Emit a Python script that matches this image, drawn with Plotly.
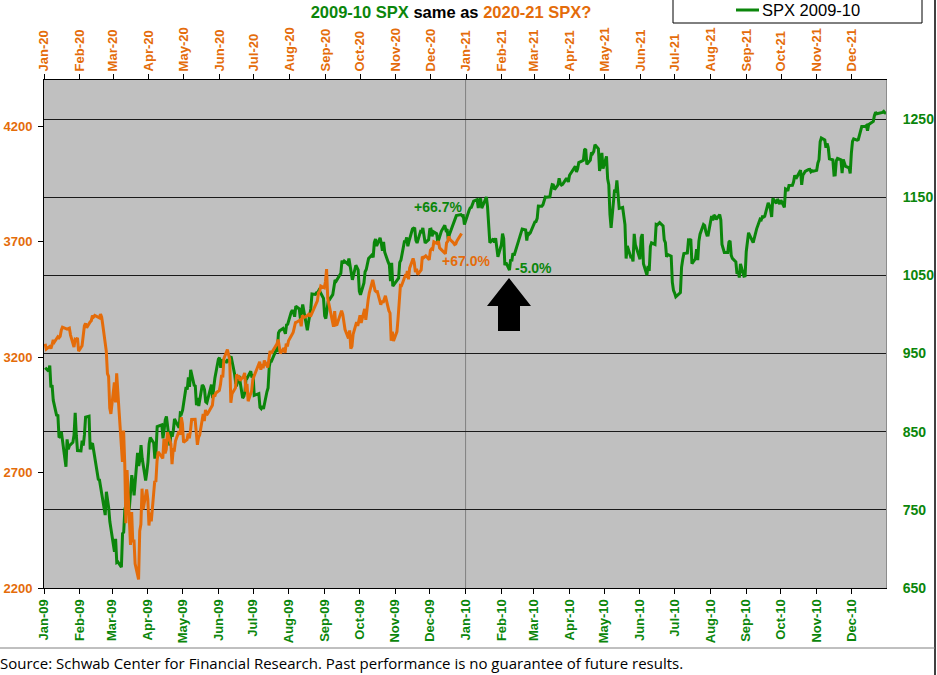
import pandas as pd
import plotly.graph_objects as go

# ---------------- data ----------------
holidays_2009 = ["2009-01-01", "2009-01-19", "2009-02-16", "2009-04-10", "2009-05-25",
                 "2009-07-03", "2009-09-07", "2009-11-26", "2009-12-25"]
holidays_2010 = ["2010-01-01", "2010-01-18", "2010-02-15", "2010-04-02", "2010-05-31",
                 "2010-07-05", "2010-09-06", "2010-11-25", "2010-12-24"]
holidays_2020 = ["2020-01-01", "2020-01-20", "2020-02-17", "2020-04-10", "2020-05-25",
                 "2020-07-03", "2020-09-07", "2020-11-26", "2020-12-25"]

spx_2009 = [
    931.80, 927.45, 934.70, 906.65, 909.73, 890.35, 870.26, 871.79, 842.62, 843.74, 850.12, 805.22, 840.24, 827.50, 831.95, 836.57, 845.71, 874.09, 845.14, 825.88,
    825.44, 838.51, 832.23, 845.85, 868.60, 869.89, 827.16, 833.74, 835.19, 826.84, 789.17, 788.42, 778.94, 770.05, 743.33, 773.14, 764.90, 752.83, 735.09,
    700.82, 696.33, 712.87, 682.55, 683.38, 676.53, 719.60, 721.36, 750.74, 756.55, 753.89, 778.12, 794.35, 784.04, 768.54, 822.92, 806.12, 813.88, 832.86, 815.94, 787.53, 797.87,
    811.08, 834.38, 842.50, 835.48, 815.55, 825.16, 856.56, 858.73, 841.50, 852.06, 865.30, 869.60, 832.39, 850.08, 843.55, 851.92, 866.23, 857.51, 855.16, 873.64, 872.81,
    877.52, 907.24, 903.80, 919.53, 907.39, 929.23, 909.24, 908.35, 883.92, 893.07, 882.88, 909.71, 908.13, 903.47, 888.33, 887.00, 910.33, 893.06, 906.83, 919.14,
    942.87, 944.74, 931.76, 942.46, 940.09, 939.14, 942.43, 939.15, 944.89, 946.21, 923.72, 911.97, 910.71, 918.37, 921.23, 893.04, 895.10, 900.94, 920.26, 918.90, 927.23, 919.32,
    923.33, 896.42, 898.72, 881.03, 879.56, 882.68, 879.13, 901.05, 905.84, 932.68, 940.74, 940.38, 951.13, 954.58, 954.07, 976.29, 979.26, 982.18, 979.62, 975.15, 986.75, 987.48,
    1002.63, 1005.65, 1002.72, 997.08, 1010.48, 1007.10, 994.35, 1005.81, 1012.73, 1004.09, 979.73, 989.67, 996.46, 1007.37, 1026.13, 1025.57, 1028.00, 1028.12, 1030.98, 1028.93, 1020.62,
    998.04, 994.75, 1003.24, 1016.40, 1025.39, 1033.37, 1044.14, 1042.73, 1049.34, 1052.63, 1068.76, 1065.49, 1068.30, 1064.66, 1071.66, 1060.87, 1050.78, 1044.38, 1062.98, 1060.61, 1057.08,
    1029.85, 1025.21, 1040.46, 1054.72, 1057.58, 1065.48, 1071.49, 1076.19, 1073.19, 1092.02, 1096.56, 1087.68, 1097.91, 1091.06, 1081.40, 1092.91, 1079.60, 1066.95, 1063.41, 1042.63, 1066.11, 1036.19,
    1042.88, 1045.41, 1046.50, 1066.63, 1069.30, 1093.08, 1093.01, 1098.51, 1087.24, 1093.48, 1109.30, 1110.32, 1109.80, 1094.90, 1091.38, 1106.24, 1105.65, 1110.63, 1091.49, 1095.63,
    1108.86, 1109.24, 1099.92, 1105.98, 1103.25, 1091.94, 1095.95, 1102.35, 1106.41, 1114.11, 1107.93, 1109.18, 1096.08, 1102.47, 1114.05, 1118.02, 1120.59, 1126.48, 1127.78, 1126.20, 1126.42, 1115.10,
]

spx_2010 = [
    1132.99, 1136.52, 1137.14, 1141.69, 1144.98, 1146.98, 1136.22, 1145.68, 1148.46, 1136.03, 1150.23, 1138.04, 1116.48, 1091.76, 1096.78, 1092.17, 1097.50, 1084.53, 1073.87,
    1089.19, 1103.32, 1097.28, 1063.11, 1066.19, 1056.74, 1070.52, 1068.13, 1078.47, 1075.51, 1094.87, 1099.51, 1106.75, 1109.17, 1108.01, 1094.60, 1105.24, 1102.94, 1104.49,
    1115.71, 1118.31, 1118.79, 1122.97, 1138.70, 1138.50, 1140.45, 1145.61, 1150.24, 1149.99, 1150.51, 1159.46, 1166.21, 1165.83, 1159.90, 1165.81, 1174.17, 1167.72, 1165.73, 1166.59, 1173.22, 1173.27, 1169.43,
    1178.10, 1187.44, 1189.44, 1182.45, 1186.44, 1194.37, 1196.48, 1197.30, 1210.65, 1211.67, 1192.13, 1197.52, 1207.17, 1205.94, 1208.67, 1217.28, 1212.05, 1183.71, 1191.36, 1206.78, 1186.69,
    1202.26, 1173.60, 1165.87, 1128.15, 1110.88, 1159.73, 1155.79, 1171.67, 1157.44, 1135.68, 1136.94, 1120.80, 1115.05, 1071.59, 1087.69, 1073.65, 1074.03, 1067.95, 1103.06, 1089.41,
    1070.71, 1098.38, 1102.83, 1064.88, 1050.47, 1062.00, 1055.69, 1086.84, 1091.60, 1089.63, 1115.23, 1114.61, 1116.04, 1117.51, 1113.20, 1095.31, 1092.04, 1073.69, 1076.76, 1074.57, 1041.24, 1030.71,
    1027.37, 1022.58, 1028.06, 1060.27, 1070.25, 1077.96, 1078.75, 1095.34, 1095.17, 1096.48, 1064.88, 1071.25, 1083.48, 1069.59, 1093.67, 1102.66, 1115.01, 1113.84, 1106.13, 1101.53, 1101.60,
    1125.86, 1120.46, 1127.24, 1125.81, 1121.64, 1127.79, 1121.06, 1089.47, 1083.61, 1079.25, 1079.38, 1092.54, 1094.16, 1075.63, 1071.69, 1067.36, 1051.87, 1055.33, 1047.22, 1064.59, 1048.92, 1049.33,
    1080.29, 1090.10, 1104.51, 1091.84, 1098.87, 1104.18, 1109.55, 1121.90, 1121.10, 1125.07, 1124.66, 1125.59, 1142.71, 1139.78, 1134.28, 1124.83, 1148.67, 1142.16, 1147.70, 1144.73, 1141.20,
    1146.24, 1137.03, 1160.75, 1159.97, 1158.06, 1165.15, 1165.32, 1169.77, 1178.10, 1173.81, 1176.19, 1184.71, 1165.90, 1178.17, 1180.26, 1183.08, 1185.62, 1185.64, 1182.45, 1183.78, 1183.26,
    1184.38, 1193.57, 1197.96, 1221.06, 1225.85, 1223.25, 1213.40, 1218.71, 1213.54, 1199.21, 1197.75, 1178.34, 1178.59, 1196.69, 1199.73, 1197.84, 1180.73, 1198.35, 1189.40, 1187.76, 1180.55,
    1206.07, 1221.53, 1224.71, 1223.12, 1223.75, 1228.28, 1233.00, 1240.40, 1240.46, 1241.59, 1235.23, 1242.87, 1243.91, 1247.08, 1254.60, 1258.84, 1256.77, 1257.54, 1258.51, 1259.78, 1257.88, 1257.64,
]

spx_2020 = [
    3257.85, 3234.85, 3246.28, 3237.18, 3253.05, 3274.70, 3265.35, 3288.13, 3283.15, 3289.29, 3316.81, 3329.62, 3320.79, 3321.75, 3325.54, 3295.47, 3243.63, 3276.24, 3273.40, 3283.66, 3225.52,
    3248.92, 3297.59, 3334.69, 3345.78, 3327.71, 3352.09, 3357.75, 3379.45, 3373.94, 3380.16, 3370.29, 3386.15, 3373.23, 3337.75, 3225.89, 3128.21, 3116.39, 2978.76, 2954.22,
    3090.23, 3003.37, 3130.12, 3023.94, 2972.37, 2746.56, 2882.23, 2741.38, 2480.64, 2711.02, 2386.13, 2529.19, 2398.10, 2409.39, 2304.92, 2237.40, 2447.33, 2475.56, 2630.07, 2541.47, 2626.65, 2584.59,
    2470.50, 2526.90, 2488.65, 2663.68, 2659.41, 2749.98, 2789.82, 2761.63, 2846.06, 2783.36, 2799.55, 2874.56, 2823.16, 2736.56, 2799.31, 2797.80, 2836.74, 2878.48, 2863.39, 2939.51, 2912.43,
    2830.71, 2842.74, 2868.44, 2848.42, 2881.19, 2929.80, 2930.32, 2870.12, 2820.00, 2852.50, 2863.70, 2953.91, 2922.94, 2971.61, 2948.51, 2955.45, 2991.77, 3036.13, 3029.73, 3044.31,
    3055.73, 3080.82, 3122.87, 3112.35, 3193.93, 3232.39, 3207.18, 3190.14, 3002.10, 3041.31, 3066.59, 3124.74, 3113.49, 3115.34, 3097.74, 3117.86, 3131.29, 3050.33, 3083.76, 3009.05, 3053.24, 3100.29,
    3115.86, 3130.01, 3179.72, 3145.32, 3169.94, 3152.05, 3185.04, 3155.22, 3197.52, 3226.56, 3215.57, 3224.73, 3251.84, 3257.30, 3276.02, 3235.66, 3215.63, 3239.41, 3218.44, 3258.44, 3246.22, 3271.12,
    3294.61, 3306.51, 3327.77, 3349.16, 3351.28, 3360.47, 3333.69, 3380.35, 3373.43, 3372.85, 3381.99, 3389.78, 3374.85, 3385.51, 3397.16, 3431.28, 3443.62, 3478.73, 3484.55, 3508.01, 3500.31,
    3526.65, 3580.84, 3455.06, 3426.96, 3331.84, 3398.96, 3339.19, 3340.97, 3383.54, 3401.20, 3385.49, 3357.01, 3319.47, 3281.06, 3315.57, 3236.92, 3246.59, 3298.46, 3351.60, 3335.47, 3363.00,
    3380.80, 3348.42, 3408.60, 3360.97, 3419.44, 3446.83, 3477.14, 3534.22, 3511.93, 3488.67, 3483.34, 3483.81, 3426.92, 3443.12, 3435.56, 3453.49, 3465.39, 3400.97, 3390.68, 3271.03, 3310.11, 3269.96,
    3310.24, 3369.16, 3443.44, 3510.45, 3509.44, 3550.50, 3545.53, 3572.66, 3537.01, 3585.15, 3626.91, 3609.53, 3567.79, 3581.87, 3557.54, 3577.59, 3635.41, 3629.65, 3638.35, 3621.63,
    3662.45, 3669.01, 3666.72, 3699.12, 3691.96, 3702.25, 3672.82, 3668.10, 3663.46, 3647.49, 3694.62, 3701.17, 3722.48, 3709.41, 3694.92, 3687.26, 3690.01, 3703.06, 3735.36,
]

left_ticks = [2200, 2700, 3200, 3700, 4200]
right_ticks = [650, 750, 850, 950, 1050, 1150, 1250]
bottom_months = pd.date_range("2009-01-01", "2010-12-01", freq="MS")
top_months = pd.date_range("2020-01-01", "2021-12-01", freq="MS")
bottom_labels = [d.strftime("%b-%y") for d in bottom_months]
top_labels = [d.strftime("%b-%y") for d in top_months]

labels_pct = ["+66.7%", "+67.0%", "-5.0%"]

# ---------------- dates ----------------
dates_0910 = list(pd.bdate_range("2009-01-01", "2009-12-31", freq="C", holidays=holidays_2009)) + \
             list(pd.bdate_range("2010-01-01", "2010-12-31", freq="C", holidays=holidays_2010))
dates_2020 = list(pd.bdate_range("2020-01-01", "2020-12-28", freq="C", holidays=holidays_2020))
spx_0910 = spx_2009 + spx_2010
assert len(dates_0910) == len(spx_0910), (len(dates_0910), len(spx_0910))
assert len(dates_2020) == len(spx_2020), (len(dates_2020), len(spx_2020))

GREEN = "#0B860B"
ORANGE = "#E46C0A"
FONT = "Liberation Sans"

# plot area in pixels
L, R, T, B = 44, 886, 80, 588
W, H = 937, 675


def px(x):
    return (x - L) / (R - L)


def py(y):
    return (B - y) / (B - T)


fig = go.Figure()
# green: main subplot (bottom x / right y)
fig.add_trace(go.Scatter(x=dates_0910, y=spx_0910, xaxis="x", yaxis="y", mode="lines",
                         line=dict(color=GREEN, width=3), name="SPX 2009-10", showlegend=False))
# orange: overlay subplot (top x / left y)
fig.add_trace(go.Scatter(x=dates_2020, y=spx_2020, xaxis="x2", yaxis="y2", mode="lines",
                         line=dict(color=ORANGE, width=3), name="SPX 2020-21", showlegend=False))

tickfont_x_g = dict(family=FONT, size=13, color=GREEN, weight="bold")
tickfont_x_o = dict(family=FONT, size=13, color=ORANGE, weight="bold")

fig.update_layout(
    width=W, height=H,
    margin=dict(l=L, r=W - R, t=T, b=H - B, pad=0, autoexpand=False),
    paper_bgcolor="white",
    plot_bgcolor="#C0C0C0",
    font=dict(family=FONT),
    title=dict(
        text=("<b><span style='color:%s'>2009-10 SPX</span> <span style='color:#000'>same as</span> "
              "<span style='color:%s'>2020-21 SPX?</span></b>") % (GREEN, ORANGE),
        font=dict(family=FONT, size=16.5),
        xref="container", yref="container", x=451 / W, y=1 - 12 / H,
        xanchor="center", yanchor="middle"),
    xaxis=dict(type="date", range=["2009-01-01", "2010-12-31"], tickvals=bottom_months,
               ticktext=bottom_labels, tickangle=-90, tickfont=tickfont_x_g, automargin=False,
               showgrid=False, zeroline=False, showline=True, linecolor="#000", linewidth=1,
               ticks="outside", ticklen=5, tickcolor="#000"),
    xaxis2=dict(type="date", range=["2020-01-01", "2021-12-31"], tickvals=top_months,
                ticktext=top_labels, tickangle=-90, tickfont=tickfont_x_o, automargin=False,
                overlaying="x", side="top", anchor="y2",
                showgrid=False, zeroline=False, showline=True, linecolor="#000", linewidth=1,
                ticks="outside", ticklen=5, tickcolor="#000"),
    yaxis=dict(range=[650, 1300], tickvals=right_ticks, side="right", anchor="x", automargin=False,
               tickfont=dict(family=FONT, size=14, color=GREEN, weight="bold"),
               showgrid=True, gridcolor="#1a1a1a", gridwidth=1, zeroline=False,
               showline=True, linecolor="#8c8c8c", linewidth=1, ticks="", ticklabelstandoff=13),
    yaxis2=dict(range=[2200, 4400], tickvals=left_ticks, overlaying="y", side="left", anchor="x2",
                automargin=False,
                tickfont=dict(family=FONT, size=13, color=ORANGE, weight="bold"),
                showgrid=False, zeroline=False, showline=True, linecolor="#000", linewidth=1,
                ticks="outside", ticklen=5, tickcolor="#000", ticklabelstandoff=3),
)

shapes = [
    # separator at year boundary
    dict(type="line", xref="x", yref="paper", x0="2010-01-01", x1="2010-01-01", y0=0, y1=1,
         line=dict(color="#808080", width=1), layer="below"),
    # block arrow
    dict(type="path", xref="paper", yref="paper",
         path="M %f %f L %f %f L %f %f L %f %f L %f %f L %f %f L %f %f Z" % (
             px(509), py(278), px(531), py(306), px(520), py(306), px(520), py(331),
             px(498), py(331), px(498), py(306), px(487), py(306)),
         fillcolor="#000", line=dict(color="#000", width=0)),
    # legend box
    dict(type="rect", xref="paper", yref="paper", x0=px(673), x1=px(922), y0=py(23), y1=py(-5),
         line=dict(color="#000", width=1), fillcolor="white"),
    dict(type="line", xref="paper", yref="paper", x0=px(736), x1=px(759), y0=py(10), y1=py(10),
         line=dict(color=GREEN, width=3)),
    # chart frame (right and bottom)
    dict(type="line", xref="paper", yref="paper", x0=px(935), x1=px(935), y0=py(-5), y1=py(675),
         line=dict(color="#404040", width=2)),
    dict(type="line", xref="paper", yref="paper", x0=px(-5), x1=px(935), y0=py(648), y1=py(648),
         line=dict(color="#808080", width=1)),
]
fig.update_layout(shapes=shapes)

annotations = [
    dict(text=labels_pct[0], xref="x", yref="y", x="2009-12-08", y=1137.5, showarrow=False,
         font=dict(family=FONT, size=14, color=GREEN, weight="bold")),
    dict(text=labels_pct[1], xref="x", yref="y", x="2010-01-01", y=1068.4, showarrow=False,
         font=dict(family=FONT, size=14, color=ORANGE, weight="bold")),
    dict(text=labels_pct[2], xref="x", yref="y", x="2010-03-01", y=1059.5, showarrow=False,
         font=dict(family=FONT, size=14, color=GREEN, weight="bold")),
    dict(text="SPX 2009-10", xref="paper", yref="paper", x=px(760), y=py(10), xanchor="left",
         yanchor="middle", showarrow=False, font=dict(family=FONT, size=16.5, color="#000")),
    dict(text="Source: Schwab Center for Financial Research. Past performance is no guarantee of future results.",
         xref="paper", yref="paper", x=px(-2), y=py(663), xanchor="left", yanchor="middle",
         showarrow=False, font=dict(family="Open Sans", size=15, color="#000")),
]
fig.update_layout(annotations=annotations)

fig.write_html("out.html")
